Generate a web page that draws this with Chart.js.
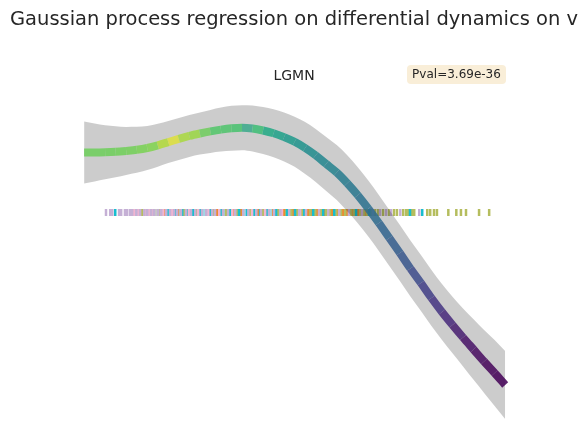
<!DOCTYPE html>
<html>
<head>
<meta charset="utf-8">
<script src="https://cdn.jsdelivr.net/npm/chart.js@4/dist/chart.umd.min.js"></script>
<style>
  html, body { margin: 0; padding: 0; background: #fff; }
  canvas { display: block; }
</style>
</head>
<body>
<canvas id="chart" width="588" height="446"></canvas>
<script>
// ----- data -----
const titleText = "Gaussian process regression on differential dynamics on v";
const geneName = "LGMN";
const pvalText = "Pval=3.69e-36";

// GP fit over pseudotime
const pseudotime = [0, 0.025, 0.05, 0.075, 0.1, 0.125, 0.15, 0.175, 0.2, 0.225,
  0.25, 0.275, 0.3, 0.325, 0.35, 0.375, 0.4, 0.425, 0.45, 0.475,
  0.5, 0.525, 0.55, 0.575, 0.6, 0.625, 0.65, 0.675, 0.7, 0.725,
  0.75, 0.775, 0.8, 0.825, 0.85, 0.875, 0.9, 0.925, 0.95, 0.975, 1];
const meanExpr = [2.305, 2.305, 2.307, 2.312, 2.321, 2.332, 2.350, 2.377, 2.409, 2.441,
  2.471, 2.495, 2.516, 2.534, 2.547, 2.553, 2.545, 2.525, 2.498, 2.459,
  2.412, 2.350, 2.276, 2.191, 2.105, 1.998, 1.878, 1.744, 1.600, 1.450,
  1.300, 1.145, 1.000, 0.850, 0.710, 0.580, 0.455, 0.335, 0.215, 0.100, -0.020];
const sdExpr = [0.31, 0.29, 0.27, 0.255, 0.24, 0.23, 0.22, 0.215, 0.21, 0.21,
  0.21, 0.21, 0.215, 0.22, 0.225, 0.225, 0.23, 0.235, 0.24, 0.245,
  0.25, 0.26, 0.265, 0.27, 0.275, 0.28, 0.28, 0.28, 0.28, 0.28,
  0.28, 0.28, 0.28, 0.28, 0.28, 0.283, 0.29, 0.303, 0.315, 0.33, 0.34];
const curveColors = ["#6ccd5a", "#6ccd5a", "#6dcd59", "#6fce58", "#72cf56", "#78d152", "#80d34d", "#b0d93a", "#dcdf3a", "#a8d840",
  "#9ad544", "#6fcc5c", "#52c569", "#4ec36b", "#48c16e", "#3ba88a", "#3dbc74", "#22a884", "#1fa088", "#1f998a",
  "#20928c", "#228c8d", "#24868e", "#26828e", "#287c8e", "#2a778e", "#2c718e", "#2f6b8e", "#32648e", "#355e8d",
  "#39568c", "#3e4c8a", "#424086", "#453581", "#472a7a", "#481f70", "#481467", "#470d60", "#46075a", "#440256", "#440154"];

// rug of cells, one list per cluster
const rugLevel = 1.705;
const rugLilac = [.052, .062, .067, .083, .088, .097, .102, .109, .114, .124, .133, .143, .150, .159, .166, .176,
  .183, .195, .204, .214, .221, .230, .242, .254, .264, .280, .290, .304, .311, .330, .342, .359, .378, .390,
  .409, .420, .439, .451, .466, .487, .511, .527, .558, .580, .606, .629, .660, .686, .703, .717, .729, .751, .796];
const rugPink = [.119, .128, .147, .154, .164, .188, .209, .249, .271, .295, .321, .352, .399, .430, .470, .513];
const rugCyan = [.074, .200, .216, .233, .247, .259, .276, .299, .325, .347, .368, .387, .404, .418, .435, .456,
  .482, .501, .523, .544, .568, .594, .646, .677, .774, .803];
const rugOlive = [.138, .181, .238, .268, .306, .337, .363, .394, .425, .461, .480, .492, .506, .518, .537, .549,
  .563, .575, .584, .599, .610, .620, .634, .641, .656, .665, .672, .682, .691, .698, .710, .724, .736, .743,
  .758, .765, .770, .779, .784, .815, .822, .831, .838, .865, .884, .895, .907, .938, .962];
const rugOrange = [.192, .223, .316, .356, .373, .413, .449, .475, .496, .532, .542, .553, .572, .589, .603, .615,
  .625, .637, .651, .667];
const rugTeal = [.226, .285, .333, .382, .444];
const rugGray = [.171];

const rugGroups = [
  { values: rugLilac, color: "#c5b0d5" },
  { values: rugPink, color: "#f2b5d0" },
  { values: rugCyan, color: "#17becf" },
  { values: rugOlive, color: "#b5bd5e" },
  { values: rugOrange, color: "#ee8a30" },
  { values: rugTeal, color: "#9edae5" },
  { values: rugGray, color: "#c7c7c7" }
];

Chart.defaults.font.family = "'DejaVu Sans', sans-serif";
Chart.defaults.color = "#262626";

const pts = arr => pseudotime.map((t, i) => ({ x: t, y: arr[i] }));
const upper = meanExpr.map((m, i) => m + sdExpr[i]);
const lower = meanExpr.map((m, i) => m - sdExpr[i]);

const datasets = [];

// curve
datasets.push({
  data: pts(meanExpr),
  borderWidth: 8,
  borderCapStyle: "butt",
  borderColor: curveColors[0],
  segment: { borderColor: ctx => curveColors[ctx.p0DataIndex] + "dd" },
  pointRadius: 0,
  cubicInterpolationMode: "monotone",
  fill: false,
  order: 1
});

// confidence band
datasets.push({
  data: pts(upper),
  borderWidth: 0,
  pointRadius: 0,
  cubicInterpolationMode: "monotone",
  fill: "+1",
  backgroundColor: "rgba(0,0,0,0.2)",
  order: 2
});
datasets.push({
  data: pts(lower),
  borderWidth: 0,
  pointRadius: 0,
  cubicInterpolationMode: "monotone",
  fill: false,
  order: 2
});

// rug
rugGroups.forEach(g => {
  datasets.push({
    type: "scatter",
    data: g.values.map(v => ({ x: v, y: rugLevel })),
    pointStyle: "line",
    rotation: 90,
    radius: 3.5,
    borderWidth: 2.5,
    borderColor: g.color,
    backgroundColor: g.color,
    order: 3
  });
});

// Pval box
const pvalBox = {
  id: "pvalBox",
  afterDraw(chart) {
    const c = chart.ctx;
    c.save();
    c.fillStyle = "#f9eed8";
    c.beginPath();
    c.roundRect(407, 65, 99, 19, 4);
    c.fill();
    c.fillStyle = "#262626";
    c.font = "12px 'DejaVu Sans'";
    c.textAlign = "center";
    c.textBaseline = "middle";
    c.fillText(pvalText, 456.5, 75);
    c.restore();
  }
};

new Chart(document.getElementById("chart"), {
  type: "line",
  data: { datasets },
  options: {
    responsive: false,
    animation: false,
    layout: { padding: { left: 10, right: 10, top: 0, bottom: 10 } },
    scales: {
      x: { type: "linear", min: -0.176, max: 1.173, display: false },
      y: { min: -0.53, max: 2.93, display: false }
    },
    plugins: {
      legend: { display: false },
      tooltip: { enabled: false },
      title: {
        display: true,
        text: titleText,
        align: "start",
        font: { size: 19.5, weight: "normal" },
        color: "#262626",
        padding: { top: 8, bottom: 0 }
      },
      subtitle: {
        display: true,
        text: geneName,
        font: { size: 14 },
        color: "#262626",
        padding: { top: 36.2, bottom: 5.6 }
      }
    }
  },
  plugins: [pvalBox]
});
</script>
</body>
</html>
